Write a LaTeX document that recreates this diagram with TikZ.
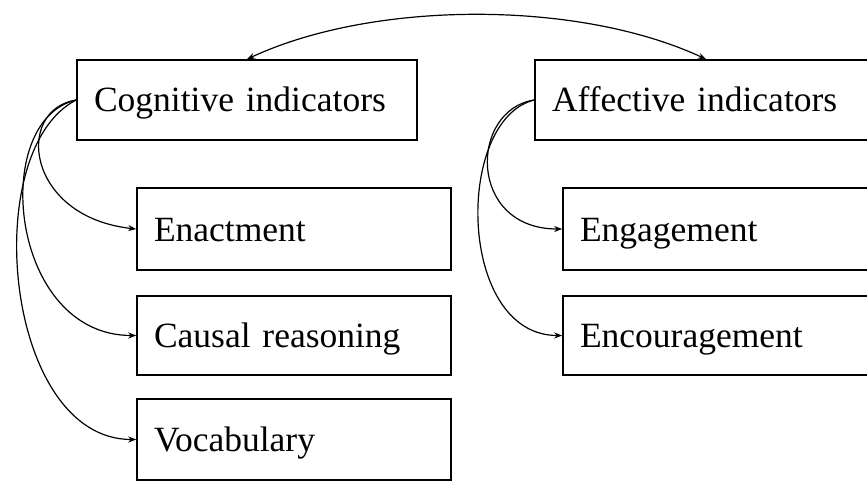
\documentclass[tikz,border=0pt]{standalone}
\usepackage{fontspec}
\setmainfont{Liberation Serif}
\usetikzlibrary{arrows.meta}
\begin{document}
\begin{tikzpicture}[x=1pt,y=1pt,
  box/.style={draw, line width=1.6pt, rectangle, align=left,
    inner xsep=17pt, inner ysep=2pt, minimum height=80pt,
    text height=26pt, text depth=2pt,
    font=\fontsize{35.5}{40}\selectfont},
  headbox/.style={box, text width=306pt},
  itembox/.style={box, text width=280pt},
  link/.style={line width=1.2pt, -{Stealth[length=8pt,width=6pt]}},
]
\clip (0,0) rectangle (867,-481);

% indicator groups
\node[headbox] (cog) at (247,-100) {Cognitive indicators};
\node[headbox, text width=308pt] (aff) at (706,-100) {Affective indicators};

% cognitive items
\node[itembox, minimum height=82pt] (enact) at (294,-229) {Enactment};
\node[itembox, minimum height=79pt] (causal) at (294,-335.5) {Causal reasoning};
\node[itembox, minimum height=81pt] (vocab) at (294,-439.5) {Vocabulary};

% affective items
\node[itembox, minimum height=82pt] (engage) at (720,-229) {Engagement};
\node[itembox, minimum height=79pt] (encour) at (720,-335.5) {Encouragement};

% link between the two groups
\draw[line width=1.2pt, {Stealth[length=8pt,width=6pt]}-{Stealth[length=8pt,width=6pt]}]
  (cog.north) .. controls +(25:140) and +(155:140) .. (aff.north);

% cognitive branches
\draw[link] (cog.west) .. controls +(-62,-10) and +(-110,12) .. (enact.west);
\draw[link] (cog.west) .. controls +(-87,-20) and +(-127,0) .. (causal.west);
\draw[link] (cog.west) .. controls +(-98,-50) and +(-132,0) .. (vocab.west);

% affective branches
\draw[link] (aff.west) .. controls +(-65,-10) and +(-95,0) .. (engage.west);
\draw[link] (aff.west) .. controls +(-80,-20) and +(-105,0) .. (encour.west);
\end{tikzpicture}
\end{document}
